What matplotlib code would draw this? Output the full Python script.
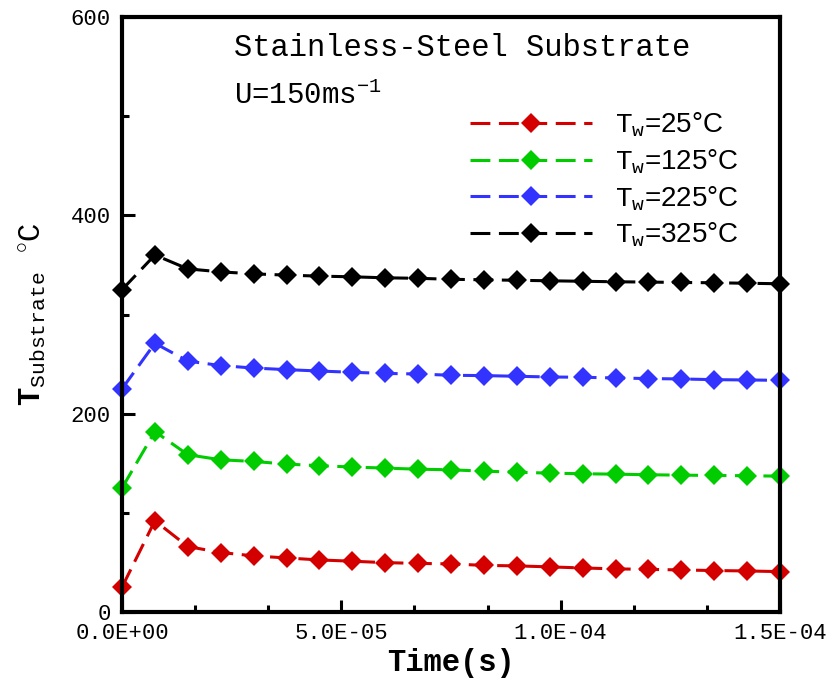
import matplotlib
matplotlib.use("Agg")
import matplotlib.pyplot as plt
from matplotlib.ticker import MultipleLocator, FixedLocator

plt.rcParams['mathtext.fontset'] = 'custom'
plt.rcParams['mathtext.rm'] = 'Liberation Mono'
plt.rcParams['mathtext.tt'] = 'Liberation Mono'
plt.rcParams['mathtext.bf'] = 'Liberation Mono:bold'
plt.rcParams['mathtext.it'] = 'Liberation Mono:italic'
plt.rcParams['font.family'] = ['Liberation Mono', 'DejaVu Sans']

# ---- data ----
time_s = [0.0, 7.5e-6, 1.5e-5, 2.25e-5, 3.0e-5, 3.75e-5, 4.5e-5, 5.25e-5, 6.0e-5, 6.75e-5,
          7.5e-5, 8.25e-5, 9.0e-5, 9.75e-5, 1.05e-4, 1.125e-4, 1.2e-4, 1.275e-4, 1.35e-4,
          1.425e-4, 1.5e-4]
t_w25 = [25, 92, 66, 60, 56.6, 54.5, 52.5, 51.2, 49.8, 49, 48.5, 47, 46.5, 45.5, 44.4,
         43.5, 43, 42.4, 41.8, 41.4, 40.7]
t_w125 = [125, 182, 158.6, 153.5, 151.8, 149.2, 147.5, 146.2, 145.1, 144, 143.4, 142, 141,
          140, 139.4, 139, 138.4, 138, 137.7, 137.4, 137]
t_w225 = [225, 271, 253, 248.5, 246, 244.4, 243, 241.7, 240.6, 240, 238.7, 238.4, 237.7,
          237, 236.7, 236, 235.4, 235, 234.3, 234, 233.6]
t_w325 = [325, 360, 346, 343, 341, 339.7, 338.7, 338, 337, 336.5, 335.5, 335, 334.5, 334,
          333.5, 333, 332.7, 332.3, 332, 331.5, 331]

series = [t_w25, t_w125, t_w225, t_w325]
labels = [r"$\mathtt{T}_{\mathtt{w}}$=25°C", r"$\mathtt{T}_{\mathtt{w}}$=125°C",
          r"$\mathtt{T}_{\mathtt{w}}$=225°C", r"$\mathtt{T}_{\mathtt{w}}$=325°C"]
colors = ['#d40000', '#00cc00', '#3333ff', '#000000']

x_ticks = [0.0, 5.0e-5, 1.0e-4, 1.5e-4]
x_ticklabels = ['0.0E+00', '5.0E-05', '1.0E-04', '1.5E-04']
y_ticks = [0, 200, 400, 600]

fig = plt.figure(figsize=(8.34, 6.82), dpi=100)
ax = fig.add_axes([122/834, 1-612/682, (780-122)/834, (612-17)/682])

for ys, lab, c in zip(series, labels, colors):
    ax.plot(time_s, ys, color=c, lw=2.2, linestyle=(0, (6.5, 2.8)),
            marker='D', markersize=10, markeredgewidth=0, label=lab, clip_on=False)

ax.set_xlim(0, 1.5e-4)
ax.set_ylim(0, 600)
ax.xaxis.set_major_locator(FixedLocator(x_ticks))
ax.set_xticklabels(x_ticklabels)
ax.xaxis.set_minor_locator(FixedLocator([i * 5e-5 / 3 for i in range(10)]))
ax.set_yticks(y_ticks)
ax.yaxis.set_minor_locator(MultipleLocator(100))

for s in ax.spines.values():
    s.set_linewidth(3)
ax.tick_params(which='both', direction='in', top=False, right=False, width=2.2,
               labelsize=16)
ax.tick_params(which='major', length=9)
ax.tick_params(which='minor', length=5)
ax.tick_params(axis='x', pad=8)
ax.tick_params(axis='y', pad=8)

ax.set_xlabel('Time(s)', fontsize=22, fontweight='bold', labelpad=3)
ax.set_ylabel(r"$\mathbf{T}_{\mathrm{Substrate}}$ $^{\circ}$C", fontsize=22, labelpad=16)

ax.text(0.17, 0.948, 'Stainless-Steel Substrate', transform=ax.transAxes, fontsize=22,
        va='center', ha='left')
ax.text(0.17, 0.868, r'U=150ms$^{\mathrm{-1}}$', transform=ax.transAxes, fontsize=21,
        va='center', ha='left')

leg = ax.legend(loc='upper left', bbox_to_anchor=(0.529, 0.843), frameon=False,
                handlelength=4.4, handletextpad=0.8, labelspacing=0.3,
                borderpad=0, borderaxespad=0, numpoints=1,
                prop={'family': ['Liberation Sans'], 'size': 20})

fig.savefig('out.png', dpi=100)
